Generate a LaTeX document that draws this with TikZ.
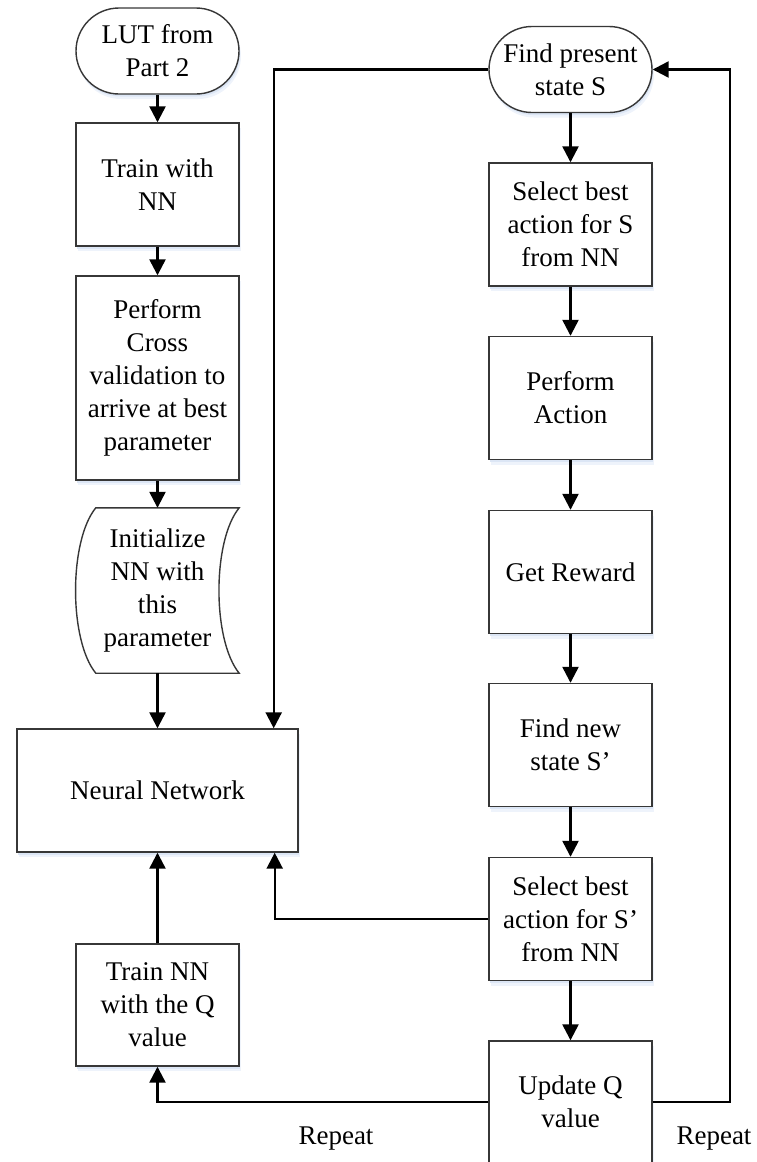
\documentclass[tikz,border=0pt]{standalone}
\usepackage{fontspec}
\setmainfont{Liberation Serif}
\usetikzlibrary{arrows.meta,shapes.misc,shadows,calc}

\pgfdeclarelayer{background}
\pgfsetlayers{background,main}

\definecolor{edge}{RGB}{55,55,55}
\definecolor{glowfar}{RGB}{238,243,251}
\definecolor{glownear}{RGB}{220,230,245}

\tikzset{
  softshadow/.style={
    drop shadow={shadow xshift=2pt, shadow yshift=-5pt, fill=glowfar, opacity=1},
    drop shadow={shadow xshift=1pt, shadow yshift=-2.5pt, fill=glownear, opacity=1}},
  txt/.style={align=center, inner sep=0pt, font=\fontsize{27}{33}\selectfont},
  blk/.style={txt, draw=edge, line width=1.4pt, fill=white, softshadow,
    minimum width=163pt, minimum height=123pt},
  term/.style={blk, rounded rectangle, minimum height=86pt},
  wire/.style={line width=2.4pt, black},
  flow/.style={wire, -{Triangle[length=16pt,width=16pt]}},
}

% outline of the stored-data symbol around a node
\newcommand\storedoutline[1]{%
  ($(#1.north west)+(20,0)$) -- (#1.north east)
  .. controls ($(#1.north east)+(-27,33)$) and ($(#1.south east)+(-27,-33)$) .. (#1.south east)
  -- ($(#1.south west)+(20,0)$)
  .. controls ($(#1.south west)+(-7,-33)$) and ($(#1.north west)+(-7,33)$) .. cycle}

\begin{document}
\begin{tikzpicture}[x=1pt, y=-1pt]
\useasboundingbox (0,0) rectangle (756,1162);

% left column
\node[term] (lut)   at (157.5,51)   {LUT from\\Part 2};
\node[blk]  (train) at (157.5,184.5) {Train with\\NN};
\node[blk, minimum height=204pt] (cross) at (157.5,378)
  {Perform\\Cross\\validation to\\arrive at best\\parameter};
\node[txt, minimum width=163pt, minimum height=165pt] (init) at (157.5,590.5)
  {Initialize\\NN with\\this\\parameter};
\node[blk, minimum width=281pt] (nn) at (157.5,790.5) {Neural Network};
\node[blk, minimum height=122pt] (trainq) at (157.5,1005) {Train NN\\with the Q\\value};

% right column
\node[term] (find)  at (570.5,69.5) {Find present\\state S};
\node[blk]  (sel1)  at (570.5,224.5) {Select best\\action for S\\from NN};
\node[blk]  (perf)  at (570.5,398)   {Perform\\Action};
\node[blk]  (rew)   at (570.5,572)   {Get Reward};
\node[blk]  (newst) at (570.5,745)   {Find new\\state S’};
\node[blk]  (sel2)  at (570.5,919)   {Select best\\action for S’\\from NN};
\node[blk, minimum height=122pt] (upd) at (570.5,1102) {Update Q\\value};

% loop labels
\node[txt] (rep1) at (336,1139) {Repeat};
\node[txt] (rep2) at (714,1139) {Repeat};

% stored-data symbol behind its text
\begin{pgfonlayer}{background}
  \fill[glowfar, xshift=2pt, yshift=-5pt] \storedoutline{init};
  \fill[glownear, xshift=1pt, yshift=-2.5pt] \storedoutline{init};
  \draw[edge, line width=1.4pt, fill=white] \storedoutline{init};
\end{pgfonlayer}

% left column flow
\draw[flow] (lut.south) -- (train.north);
\draw[flow] (train.south) -- (cross.north);
\draw[flow] (cross.south) -- (init.north);
\draw[flow] (init.south) -- (nn.north);
\draw[flow] (trainq.north) -- (nn.south);

% right column flow
\draw[flow] (find.south) -- (sel1.north);
\draw[flow] (sel1.south) -- (perf.north);
\draw[flow] (perf.south) -- (rew.north);
\draw[flow] (rew.south) -- (newst.north);
\draw[flow] (newst.south) -- (sel2.north);
\draw[flow] (sel2.south) -- (upd.north);

% cross links
\draw[flow] (find.west) -| ([xshift=-25pt]nn.north east);
\draw[flow] (sel2.west) -| ([xshift=-24pt]nn.south east);
\draw[flow] (upd.west) -| (trainq.south);
\draw[flow] (upd.east) -- ++(77,0) |- (find.east);
\end{tikzpicture}
\end{document}
